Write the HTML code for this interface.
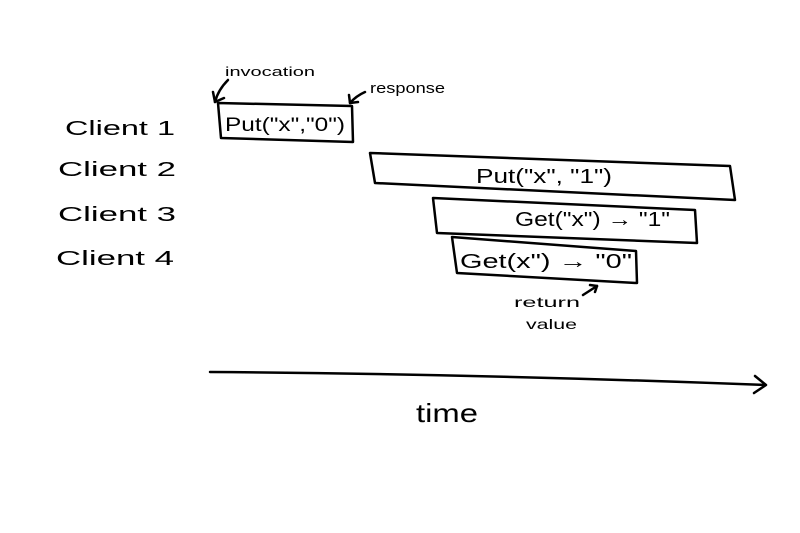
<!DOCTYPE html>
<html><head><meta charset="utf-8"><style>
html,body{margin:0;padding:0;background:#fff;}
svg{display:block;}
text{font-family:"Liberation Sans",sans-serif;fill:#000;}
</style></head><body>
<svg width="800" height="533" viewBox="0 0 800 533" xmlns="http://www.w3.org/2000/svg">
<g fill="none" stroke="#000" stroke-width="2.5" stroke-linejoin="round" stroke-linecap="round">
<polygon points="218,103 352,106 353,142 221,138"/>
<polygon points="370,153 730,166 735,200 375,183"/>
<polygon points="433,198 695,210 697,243 437,233"/>
<polygon points="452,237 636,251 637,283 457,273"/>
<path d="M228,80 Q218,90 215,102"/><path d="M213,92 L215,102 L224,98"/>
<path d="M365,92 Q356,96 350,103"/><path d="M349,95 L350,103 L358,102"/>
<path d="M583,295 L597,286"/><path d="M590,285 L597,286 L595,292"/>
<path d="M210,372 Q480,374 765,385"/><path d="M755,376 L766,385 L754,393"/>
</g>
<g font-size="20">
<text x="65" y="135" textLength="110" lengthAdjust="spacingAndGlyphs">Client 1</text>
<text x="58" y="176" textLength="118" lengthAdjust="spacingAndGlyphs">Client 2</text>
<text x="58" y="221" textLength="118" lengthAdjust="spacingAndGlyphs">Client 3</text>
<text x="56" y="265" textLength="118" lengthAdjust="spacingAndGlyphs">Client 4</text>
</g>
<text x="225" y="76" font-size="13" textLength="90" lengthAdjust="spacingAndGlyphs">invocation</text>
<text x="370" y="93" font-size="15" textLength="75" lengthAdjust="spacingAndGlyphs">response</text>
<text x="225" y="131" font-size="19" textLength="120" lengthAdjust="spacingAndGlyphs">Put("x","0")</text>
<text x="476" y="183" font-size="20" textLength="136" lengthAdjust="spacingAndGlyphs">Put("x", "1")</text>
<text x="515" y="226" font-size="20" textLength="155" lengthAdjust="spacingAndGlyphs">Get("x") → "1"</text>
<text x="460" y="268" font-size="20" textLength="172" lengthAdjust="spacingAndGlyphs">Get(x") → "0"</text>
<text x="514" y="307" font-size="14" textLength="66" lengthAdjust="spacingAndGlyphs">return</text>
<text x="526" y="329" font-size="14" textLength="51" lengthAdjust="spacingAndGlyphs">value</text>
<text x="416" y="422" font-size="26" textLength="62" lengthAdjust="spacingAndGlyphs">time</text>
</svg>
</body></html>
